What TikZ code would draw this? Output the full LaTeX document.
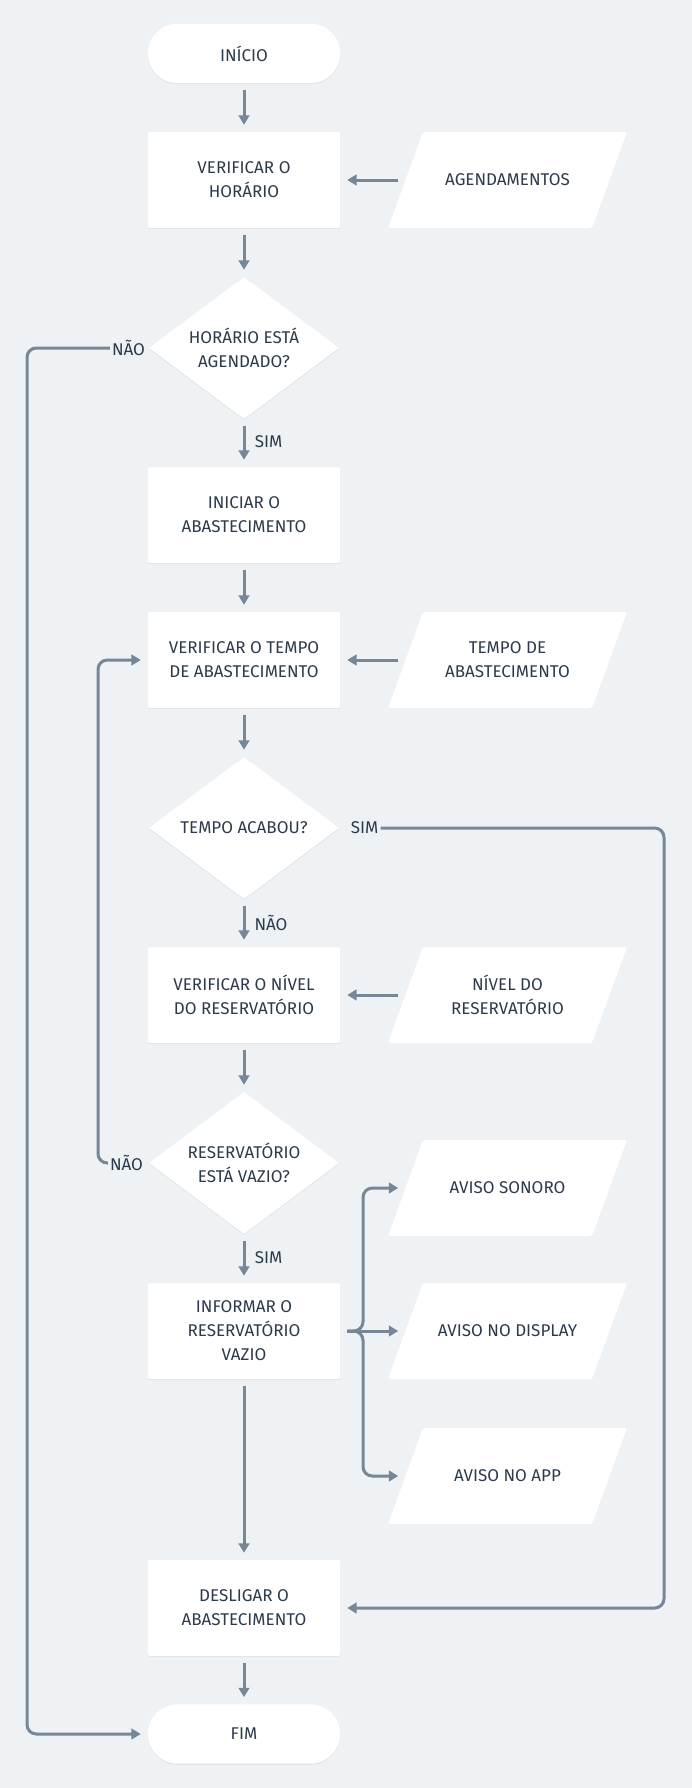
\documentclass[tikz,border=0pt]{standalone}
\usepackage{fontspec}
\setmainfont{Fira Sans}
\usetikzlibrary{arrows.meta,calc,shapes.geometric,shadows}
\definecolor{FlowBg}{HTML}{EEF2F5}
\definecolor{FlowLine}{HTML}{768797}
\definecolor{FlowInk}{HTML}{2C3A4B}

\begin{document}
\begin{tikzpicture}[x=0.75pt,y=-0.75pt,
    box/.style={
      fill=white,
      text=FlowInk,
      align=center,
      inner sep=1pt,
      font=\fontsize{12.75}{18}\selectfont,
      drop shadow={shadow xshift=0pt,shadow yshift=-0.8pt,opacity=0.06,fill=black}
    },
    terminal/.style={box,rectangle,rounded corners=22pt,minimum width=144pt,minimum height=44.5pt},
    process/.style={box,rectangle,rounded corners=1.5pt,minimum width=144pt,minimum height=72pt},
    decision/.style={box,diamond,aspect=1.34,minimum width=142.5pt,minimum height=106.5pt},
    data/.style={
      rectangle,
      fill=FlowBg,
      text=FlowInk,
      align=center,
      inner sep=1pt,
      font=\fontsize{12.75}{18}\selectfont,
      minimum width=179.25pt,
      minimum height=72pt,
      path picture={
        \fill[white,rounded corners=1.5pt]
          (path picture bounding box.south west)
          -- ([xshift=26.25pt]path picture bounding box.north west)
          -- (path picture bounding box.north east)
          -- ([xshift=-26.25pt]path picture bounding box.south east)
          -- cycle;
      }
    },
    lbl/.style={text=FlowInk,inner sep=1.5pt,font=\fontsize{12.75}{18}\selectfont},
    flow/.style={
      draw=FlowLine,
      line width=2.25pt,
      rounded corners=7pt,
      -{Triangle[length=7pt,width=8pt]},
      shorten >=5.25pt,
      shorten <=5.25pt
    },
    loop/.style={flow,shorten <=0pt}
  ]

    \useasboundingbox (0,0) rectangle (692,1788);
    \fill[FlowBg] (0,0) rectangle (692,1788);

    % main column
    \node[terminal] (start) at (244,53.5) {INÍCIO};
    \node[process] (p1) at (244,180) {VERIFICAR O\\HORÁRIO};
    \node[decision] (d1) at (244,348) {HORÁRIO ESTÁ\\AGENDADO?};
    \node[process] (p2) at (244,515) {INICIAR O\\ABASTECIMENTO};
    \node[process] (p3) at (244,660) {VERIFICAR O TEMPO\\DE ABASTECIMENTO};
    \node[decision] (d2) at (244,828) {TEMPO ACABOU?};
    \node[process] (p4) at (244,995) {VERIFICAR O NÍVEL\\DO RESERVATÓRIO};
    \node[decision] (d3) at (244,1163) {RESERVATÓRIO\\ESTÁ VAZIO?};
    \node[process] (p5) at (244,1331) {INFORMAR O\\RESERVATÓRIO\\VAZIO};
    \node[process] (p6) at (244,1608) {DESLIGAR O\\ABASTECIMENTO};
    \node[terminal] (fim) at (244,1734) {FIM};

    % inputs and outputs
    \node[data] (i1) at (507.5,180) {AGENDAMENTOS};
    \node[data] (i2) at (507.5,660) {TEMPO DE\\ABASTECIMENTO};
    \node[data] (i3) at (507.5,995) {NÍVEL DO\\RESERVATÓRIO};
    \node[data] (o1) at (507.5,1188) {AVISO SONORO};
    \node[data] (o2) at (507.5,1331) {AVISO NO DISPLAY};
    \node[data] (o3) at (507.5,1476) {AVISO NO APP};

    % branch labels
    \node[lbl] (no1) at (128.5,348) {NÃO};
    \node[lbl] (yes1) at (268.5,442) {SIM};
    \node[lbl] (yes2) at (364.5,828) {SIM};
    \node[lbl] (no2) at (271,923) {NÃO};
    \node[lbl] (no3) at (126.5,1163) {NÃO};
    \node[lbl] (yes3) at (268.5,1258) {SIM};

    \coordinate (cl) at (27,1734);
    \coordinate (cm) at (98,660);
    \coordinate (cr) at (664,1608);
    \coordinate (bus) at (363,1331);

    \foreach \a/\b in {start/p1,p1/d1,d1/p2,p2/p3,p3/d2,d2/p4,p4/d3,d3/p5,p5/p6,p6/fim}{
      \draw[flow] (\a) -- (\b);
    }

    \draw[flow] ([xshift=13.1pt]i1.west) -- (p1);
    \draw[flow] ([xshift=13.1pt]i2.west) -- (p3);
    \draw[flow] ([xshift=13.1pt]i3.west) -- (p4);

    \draw[loop] (no1.west) -| (cl) -- (fim.west);
    \draw[loop] (no3.west) -| (cm) -- (p3.west);
    \draw[loop] (yes2.east) -| (cr) -- (p6.east);

    \draw[flow] (p5.east) -- (bus) |- ([xshift=13.1pt]o1.west);
    \draw[flow] (p5.east) -- ([xshift=13.1pt]o2.west);
    \draw[flow] (p5.east) -- (bus) |- ([xshift=13.1pt]o3.west);

  \end{tikzpicture}
\end{document}
